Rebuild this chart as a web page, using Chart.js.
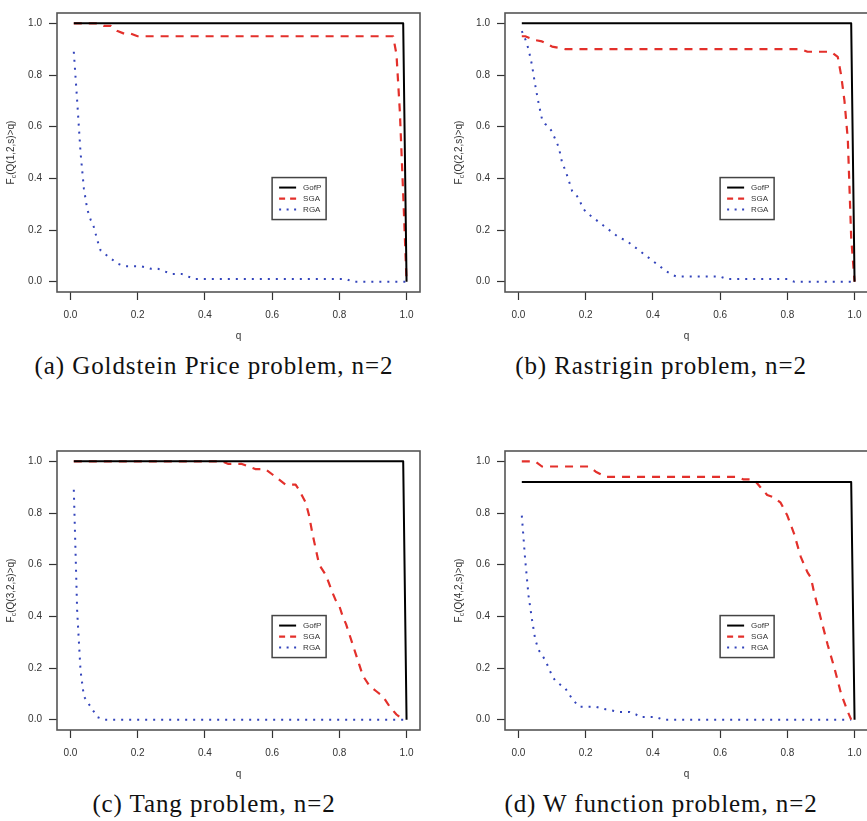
<!DOCTYPE html>
<html>
<head>
<meta charset="utf-8">
<script src="https://cdn.jsdelivr.net/npm/chart.js@4.4.1/dist/chart.umd.min.js"></script>
<style>
  html, body { margin: 0; padding: 0; background: #fff; overflow: hidden; }
  body { width: 867px; height: 821px; position: relative; }
  canvas { position: absolute; }
  .caption {
    position: absolute; width: 440px; text-align: center; white-space: nowrap;
    font-family: "Liberation Serif", "DejaVu Serif", serif; font-size: 25px;
    letter-spacing: 0.9px; line-height: 30px; color: #111;
  }
</style>
</head>
<body>
<canvas id="chartA" width="433" height="350" style="left:0px;top:0px"></canvas>
<canvas id="chartB" width="440" height="350" style="left:433px;top:0px"></canvas>
<canvas id="chartC" width="433" height="350" style="left:0px;top:438px"></canvas>
<canvas id="chartD" width="440" height="350" style="left:433px;top:438px"></canvas>
<script>
const tickValues = [0, 0.2, 0.4, 0.6, 0.8, 1.0];
const seriesNames = ["GofP", "SGA", "RGA"];
const yTitles = ["(Q(1,2,s)>q)", "(Q(2,2,s)>q)", "(Q(3,2,s)>q)", "(Q(4,2,s)>q)"];
const captions = [
  "(a) Goldstein Price problem, n=2",
  "(b) Rastrigin problem, n=2",
  "(c) Tang problem, n=2",
  "(d) W function problem, n=2"
];

// GofP
const gofpQ = [0.01, 0.99, 1.0];
const gofpA = [1, 1, 0];
const gofpB = [1, 1, 0];
const gofpC = [1, 1, 0];
const gofpD = [0.92, 0.92, 0];

// SGA
const sgaQA = [0.01, 0.08, 0.10, 0.12, 0.14, 0.16, 0.18, 0.20, 0.96, 0.97, 0.98, 0.99, 1.0];
const sgaA  = [1, 1, 0.99, 0.99, 0.97, 0.96, 0.96, 0.95, 0.95, 0.88, 0.66, 0.34, 0];
const sgaQB = [0.01, 0.02, 0.05, 0.07, 0.10, 0.12, 0.14, 0.84, 0.86, 0.93, 0.95, 0.96, 0.97, 0.98, 0.99, 1.0];
const sgaB  = [0.95, 0.95, 0.935, 0.93, 0.91, 0.905, 0.90, 0.90, 0.89, 0.89, 0.87, 0.80, 0.70, 0.55, 0.17, 0];
const sgaQC = [0.01, 0.45, 0.47, 0.51, 0.53, 0.55, 0.58, 0.60, 0.62, 0.64, 0.67, 0.68, 0.70, 0.71, 0.72,
               0.73, 0.74, 0.76, 0.78, 0.79, 0.80, 0.81, 0.82, 0.83, 0.84, 0.85, 0.86, 0.87, 0.89, 0.91,
               0.93, 0.95, 0.97, 0.99];
const sgaC  = [1, 1, 0.99, 0.99, 0.98, 0.97, 0.97, 0.95, 0.93, 0.91, 0.91, 0.89, 0.84, 0.79, 0.72,
               0.66, 0.60, 0.56, 0.49, 0.46, 0.44, 0.40, 0.37, 0.33, 0.29, 0.25, 0.21, 0.17, 0.13, 0.11,
               0.09, 0.05, 0.02, 0];
const sgaQD = [0.01, 0.05, 0.07, 0.21, 0.23, 0.26, 0.65, 0.67, 0.70, 0.72, 0.74, 0.76, 0.78, 0.80, 0.82,
               0.84, 0.86, 0.87, 0.88, 0.90, 0.92, 0.94, 0.96, 0.98, 0.99];
const sgaD  = [1, 1, 0.98, 0.98, 0.96, 0.94, 0.94, 0.93, 0.93, 0.90, 0.87, 0.86, 0.84, 0.79, 0.72,
               0.63, 0.57, 0.55, 0.49, 0.39, 0.29, 0.20, 0.10, 0.03, 0];

// RGA
const rgaQA = [0.01, 0.02, 0.03, 0.04, 0.05, 0.06, 0.07, 0.08, 0.09, 0.10, 0.12, 0.14, 0.16, 0.21,
               0.24, 0.26, 0.28, 0.30, 0.33, 0.35, 0.37, 0.82, 0.84, 1.0];
const rgaA  = [0.89, 0.70, 0.50, 0.36, 0.28, 0.24, 0.21, 0.16, 0.12, 0.11, 0.09, 0.07, 0.06, 0.06,
               0.05, 0.05, 0.04, 0.03, 0.03, 0.02, 0.01, 0.01, 0, 0];
const rgaQB = [0.01, 0.02, 0.03, 0.04, 0.05, 0.06, 0.07, 0.08, 0.09, 0.10, 0.11, 0.12, 0.13, 0.14,
               0.15, 0.16, 0.17, 0.18, 0.19, 0.20, 0.22, 0.24, 0.26, 0.28, 0.30, 0.32, 0.34, 0.36,
               0.38, 0.40, 0.42, 0.44, 0.46, 0.47, 0.60, 0.62, 0.80, 0.82, 1.0];
const rgaB  = [0.97, 0.94, 0.90, 0.84, 0.76, 0.69, 0.63, 0.61, 0.60, 0.58, 0.55, 0.52, 0.46, 0.43,
               0.39, 0.35, 0.34, 0.32, 0.29, 0.27, 0.25, 0.23, 0.21, 0.19, 0.17, 0.16, 0.14, 0.12,
               0.10, 0.08, 0.06, 0.04, 0.025, 0.02, 0.02, 0.01, 0.01, 0, 0];
const rgaQC = [0.01, 0.02, 0.03, 0.04, 0.05, 0.06, 0.07, 0.08, 0.10, 0.99];
const rgaC  = [0.89, 0.42, 0.19, 0.09, 0.07, 0.05, 0.03, 0.01, 0, 0];
const rgaQD = [0.01, 0.02, 0.03, 0.04, 0.05, 0.06, 0.07, 0.08, 0.09, 0.10, 0.11, 0.12, 0.14, 0.16,
               0.18, 0.23, 0.26, 0.30, 0.33, 0.35, 0.36, 0.41, 0.43, 0.99];
const rgaD  = [0.79, 0.62, 0.48, 0.39, 0.31, 0.27, 0.25, 0.23, 0.20, 0.17, 0.15, 0.14, 0.12, 0.08,
               0.05, 0.05, 0.04, 0.03, 0.03, 0.02, 0.01, 0.01, 0, 0];

const panels = [
  { id: "chartA", axisW: 57, padRight: 13, gofp: gofpA, sgaQ: sgaQA, sga: sgaA, rgaQ: rgaQA, rga: rgaA },
  { id: "chartB", axisW: 72, padRight: 5,  gofp: gofpB, sgaQ: sgaQB, sga: sgaB, rgaQ: rgaQB, rga: rgaB },
  { id: "chartC", axisW: 57, padRight: 13, gofp: gofpC, sgaQ: sgaQC, sga: sgaC, rgaQ: rgaQC, rga: rgaC },
  { id: "chartD", axisW: 72, padRight: 5,  gofp: gofpD, sgaQ: sgaQD, sga: sgaD, rgaQ: rgaQD, rga: rgaD }
];

const styles = [
  { color: "#000000", width: 2,   dash: [],     legendDash: [] },
  { color: "#e3302b", width: 2.2, dash: [8, 7], legendDash: [6, 5] },
  { color: "#3344bb", width: 2,   dash: [2, 6], legendDash: [2, 5.5] }
];

const axisFont = { family: "Liberation Sans, Arial, sans-serif", size: 10 };
const inkColor = "#333";

function points(qs, vs) {
  return qs.map((q, i) => ({ x: q, y: vs[i] }));
}

// box, y title with subscript and the small legend inside the plot
const decor = {
  id: "decor",
  afterDraw(chart, args, opts) {
    const ctx = chart.ctx;
    const a = chart.chartArea;
    const xs = chart.scales.x, ys = chart.scales.y;
    ctx.save();

    ctx.strokeStyle = "#555";
    ctx.lineWidth = 1.6;
    ctx.strokeRect(a.left, a.top, a.right - a.left, a.bottom - a.top);

    // F_c(...) rotated
    const big = "10px Liberation Sans, Arial, sans-serif";
    const small = "7px Liberation Sans, Arial, sans-serif";
    ctx.font = big;
    const wF = ctx.measureText("F").width;
    const wRest = ctx.measureText(opts.yTitle).width;
    ctx.font = small;
    const wSub = ctx.measureText("c").width;
    const total = wF + wSub + wRest;
    ctx.translate(a.left - 46, (a.top + a.bottom) / 2);
    ctx.rotate(-Math.PI / 2);
    ctx.fillStyle = inkColor;
    ctx.textBaseline = "middle";
    ctx.textAlign = "left";
    let tx = -total / 2;
    ctx.font = big;
    ctx.fillText("F", tx, 0);
    tx += wF;
    ctx.font = small;
    ctx.fillText("c", tx, 3);
    tx += wSub;
    ctx.font = big;
    ctx.fillText(opts.yTitle, tx, 0);
    ctx.setTransform(1, 0, 0, 1, 0, 0);

    // legend
    const lx = xs.getPixelForValue(0.6);
    const ly = ys.getPixelForValue(0.403);
    ctx.fillStyle = "#fff";
    ctx.fillRect(lx, ly, 54, 42);
    ctx.strokeStyle = "#444";
    ctx.lineWidth = 1.5;
    ctx.strokeRect(lx, ly, 54, 42);
    ctx.font = "8px Liberation Sans, Arial, sans-serif";
    ctx.textBaseline = "middle";
    seriesNames.forEach((name, i) => {
      const st = styles[i];
      const ry = ly + 10 + i * 11;
      ctx.beginPath();
      ctx.setLineDash(st.legendDash);
      ctx.strokeStyle = st.color;
      ctx.lineWidth = st.width;
      ctx.moveTo(lx + 7, ry);
      ctx.lineTo(lx + 24, ry);
      ctx.stroke();
      ctx.setLineDash([]);
      ctx.fillStyle = inkColor;
      ctx.fillText(name, lx + 31, ry);
    });
    ctx.restore();
  }
};

panels.forEach((p, k) => {
  const seriesData = [
    points(gofpQ, p.gofp),
    points(p.sgaQ, p.sga),
    points(p.rgaQ, p.rga)
  ];
  new Chart(document.getElementById(p.id), {
    type: "scatter",
    data: {
      datasets: seriesNames.map((name, i) => ({
        label: name,
        data: seriesData[i],
        showLine: true,
        borderColor: styles[i].color,
        borderWidth: styles[i].width,
        borderDash: styles[i].dash,
        borderCapStyle: "butt",
        borderJoinStyle: "round",
        pointRadius: 0,
        tension: 0
      }))
    },
    options: {
      responsive: false,
      animation: false,
      devicePixelRatio: 1,
      layout: { autoPadding: false, padding: { top: 3, right: p.padRight, bottom: 0, left: 0 } },
      plugins: {
        legend: { display: false },
        tooltip: { enabled: false },
        decor: { yTitle: yTitles[k] }
      },
      scales: {
        x: {
          type: "linear", min: -0.04, max: 1.04,
          afterBuildTicks: s => { s.ticks = tickValues.map(v => ({ value: v })); },
          afterFit: s => { s.height = 58; },
          ticks: { callback: v => v.toFixed(1), font: axisFont, color: inkColor, padding: 9, maxRotation: 0, autoSkip: false },
          grid: { drawOnChartArea: false, tickLength: 8, tickColor: inkColor, tickWidth: 1.2 },
          border: { display: false },
          title: { display: true, text: "q", font: axisFont, color: inkColor, padding: { top: 0, bottom: 8 } }
        },
        y: {
          type: "linear", min: -0.04, max: 1.04,
          afterBuildTicks: s => { s.ticks = tickValues.map(v => ({ value: v })); },
          afterFit: s => { s.width = p.axisW; },
          ticks: { callback: v => v.toFixed(1), font: axisFont, color: inkColor, padding: 7, autoSkip: false },
          grid: { drawOnChartArea: false, tickLength: 8, tickColor: inkColor, tickWidth: 1.2 },
          border: { display: false }
        }
      }
    },
    plugins: [decor]
  });
});

// captions under each panel
const capPos = [[214, 366], [661, 366], [214, 804], [661, 804]];
captions.forEach((text, i) => {
  const d = document.createElement("div");
  d.className = "caption";
  d.textContent = text;
  d.style.left = (capPos[i][0] - 220) + "px";
  d.style.top = (capPos[i][1] - 15) + "px";
  document.body.appendChild(d);
});
</script>
</body>
</html>
